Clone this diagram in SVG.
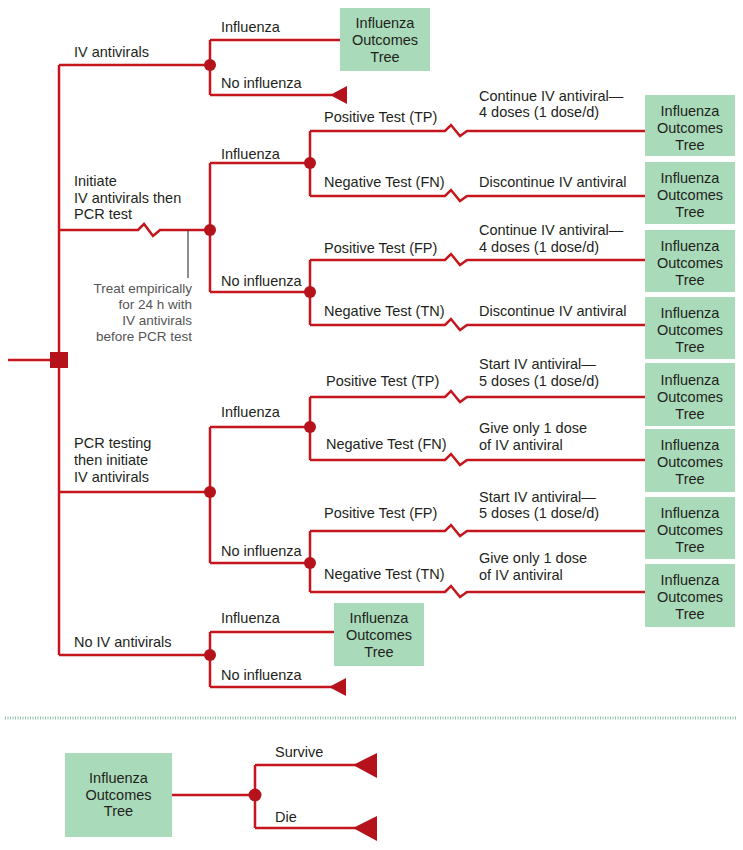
<svg xmlns="http://www.w3.org/2000/svg" width="743" height="850" viewBox="0 0 743 850">
<style>
.ln{fill:none;stroke:#c4161c;stroke-width:2.5;stroke-linejoin:miter}
.nd{fill:#b5121b}
.bx{fill:#a9dab9}
.t{font-family:"Liberation Sans",Arial,sans-serif;font-size:14.5px;fill:#231f20}
.bt{font-family:"Liberation Sans",Arial,sans-serif;font-size:14.5px;fill:#231f20;text-anchor:middle}
.g{font-family:"Liberation Sans",Arial,sans-serif;font-size:13.5px;fill:#555;text-anchor:end}
</style>
<rect width="743" height="850" fill="#fff"/>
<g id="connectors">
<path class="ln" d="M8,360 H59 M59,65 V655"/>
<path class="ln" d="M59,65 H210 M210,40 V95 M210,40 H340 M210,95 H332"/>
<path class="ln" d="M59,230 H138 L144,224 L153,236 L160,230 H210 M210,163 V292 M210,163 H310 M210,292 H310"/>
<path class="ln" d="M310,131 V196 M310,260 V325"/>
<path class="ln" d="M310,131 H445 L451,125 L460,136 L467,131 H645"/>
<path class="ln" d="M310,196 H445 L451,190 L460,201 L467,196 H645"/>
<path class="ln" d="M310,260 H445 L451,254 L460,265 L467,260 H645"/>
<path class="ln" d="M310,325 H445 L451,319 L460,330 L467,325 H645"/>
<path d="M188,230 V278" stroke="#444" stroke-width="1.2" fill="none"/>
<path class="ln" d="M59,492 H210 M210,427 V563 M210,427 H310 M210,563 H310"/>
<path class="ln" d="M310,397 V460 M310,531 V592"/>
<path class="ln" d="M310,397 H445 L451,391 L460,402 L467,397 H645"/>
<path class="ln" d="M310,460 H445 L451,454 L460,465 L467,460 H645"/>
<path class="ln" d="M310,531 H445 L451,525 L460,536 L467,531 H645"/>
<path class="ln" d="M310,592 H445 L451,586 L460,597 L467,592 H645"/>
<path class="ln" d="M59,655 H210 M210,632 V687 M210,632 H334 M210,687 H332"/>
<path class="ln" d="M172,795 H255 M255,765 V828 M255,765 H356 M255,828 H356"/>
</g>
<g id="decision">
<rect class="nd" x="50" y="352" width="18" height="16"/>
</g>
<g id="chance-nodes">
<circle class="nd" cx="210" cy="65" r="6"/>
<circle class="nd" cx="210" cy="230" r="6"/>
<circle class="nd" cx="310" cy="163" r="6"/>
<circle class="nd" cx="310" cy="292" r="6"/>
<circle class="nd" cx="210" cy="492" r="6"/>
<circle class="nd" cx="310" cy="427" r="6"/>
<circle class="nd" cx="310" cy="563" r="6"/>
<circle class="nd" cx="210" cy="655" r="6"/>
<circle class="nd" cx="255" cy="795" r="6.5"/>
</g>
<g id="terminals">
<polygon class="nd" points="330,95 347,86 347,104"/>
<polygon class="nd" points="329,687 346,678 346,696"/>
<polygon class="nd" points="353,765 377,753 377,778"/>
<polygon class="nd" points="353,828 377,816 377,841"/>
</g>
<g id="branch-labels">
<text class="t" x="74" y="57">IV antivirals</text>
<text class="t" x="221" y="32">Influenza</text>
<text class="t" x="221" y="88">No influenza</text>
<text class="t" x="74" y="186">Initiate</text>
<text class="t" x="74" y="203">IV antivirals then</text>
<text class="t" x="74" y="219">PCR test</text>
<text class="t" x="221" y="159">Influenza</text>
<text class="t" x="221" y="286">No influenza</text>
<text class="g" x="192" y="293">Treat empirically</text>
<text class="g" x="192" y="309">for 24 h with</text>
<text class="g" x="192" y="325">IV antivirals</text>
<text class="g" x="192" y="341">before PCR test</text>
<text class="t" x="324" y="122">Positive Test (TP)</text>
<text class="t" x="324" y="187">Negative Test (FN)</text>
<text class="t" x="324" y="253">Positive Test (FP)</text>
<text class="t" x="324" y="316">Negative Test (TN)</text>
<text class="t" x="479" y="101">Continue IV antiviral—</text>
<text class="t" x="479" y="117">4 doses (1 dose/d)</text>
<text class="t" x="479" y="187">Discontinue IV antiviral</text>
<text class="t" x="479" y="235">Continue IV antiviral—</text>
<text class="t" x="479" y="252">4 doses (1 dose/d)</text>
<text class="t" x="479" y="316">Discontinue IV antiviral</text>
<text class="t" x="74" y="448">PCR testing</text>
<text class="t" x="74" y="465">then initiate</text>
<text class="t" x="74" y="482">IV antivirals</text>
<text class="t" x="221" y="417">Influenza</text>
<text class="t" x="221" y="556">No influenza</text>
<text class="t" x="326" y="386">Positive Test (TP)</text>
<text class="t" x="326" y="449">Negative Test (FN)</text>
<text class="t" x="324" y="518">Positive Test (FP)</text>
<text class="t" x="324" y="579">Negative Test (TN)</text>
<text class="t" x="479" y="369">Start IV antiviral—</text>
<text class="t" x="479" y="386">5 doses (1 dose/d)</text>
<text class="t" x="479" y="433">Give only 1 dose</text>
<text class="t" x="479" y="450">of IV antiviral</text>
<text class="t" x="479" y="502">Start IV antiviral—</text>
<text class="t" x="479" y="518">5 doses (1 dose/d)</text>
<text class="t" x="479" y="563">Give only 1 dose</text>
<text class="t" x="479" y="580">of IV antiviral</text>
<text class="t" x="74" y="647">No IV antivirals</text>
<text class="t" x="221" y="623">Influenza</text>
<text class="t" x="221" y="680">No influenza</text>
</g>
<g id="box-1"><rect class="bx" x="340" y="8" width="90" height="63"/><text class="bt" x="385" y="28">Influenza</text><text class="bt" x="385" y="45">Outcomes</text><text class="bt" x="385" y="62">Tree</text></g>
<g id="box-2"><rect class="bx" x="645" y="95" width="90" height="61"/><text class="bt" x="690" y="116">Influenza</text><text class="bt" x="690" y="133">Outcomes</text><text class="bt" x="690" y="150">Tree</text></g>
<g id="box-3"><rect class="bx" x="645" y="162" width="90" height="62"/><text class="bt" x="690" y="183">Influenza</text><text class="bt" x="690" y="200">Outcomes</text><text class="bt" x="690" y="217">Tree</text></g>
<g id="box-4"><rect class="bx" x="645" y="230" width="90" height="62"/><text class="bt" x="690" y="251">Influenza</text><text class="bt" x="690" y="268">Outcomes</text><text class="bt" x="690" y="285">Tree</text></g>
<g id="box-5"><rect class="bx" x="645" y="297" width="90" height="62"/><text class="bt" x="690" y="318">Influenza</text><text class="bt" x="690" y="335">Outcomes</text><text class="bt" x="690" y="352">Tree</text></g>
<g id="box-6"><rect class="bx" x="645" y="363" width="90" height="63"/><text class="bt" x="690" y="385">Influenza</text><text class="bt" x="690" y="402">Outcomes</text><text class="bt" x="690" y="419">Tree</text></g>
<g id="box-7"><rect class="bx" x="645" y="429" width="90" height="63"/><text class="bt" x="690" y="450">Influenza</text><text class="bt" x="690" y="467">Outcomes</text><text class="bt" x="690" y="484">Tree</text></g>
<g id="box-8"><rect class="bx" x="645" y="497" width="90" height="62"/><text class="bt" x="690" y="518">Influenza</text><text class="bt" x="690" y="535">Outcomes</text><text class="bt" x="690" y="552">Tree</text></g>
<g id="box-9"><rect class="bx" x="645" y="564" width="90" height="63"/><text class="bt" x="690" y="585">Influenza</text><text class="bt" x="690" y="602">Outcomes</text><text class="bt" x="690" y="619">Tree</text></g>
<g id="box-10"><rect class="bx" x="334" y="603" width="90" height="63"/><text class="bt" x="379" y="623">Influenza</text><text class="bt" x="379" y="640">Outcomes</text><text class="bt" x="379" y="657">Tree</text></g>
<line x1="5" y1="718" x2="737" y2="718" stroke="#8dbfa8" stroke-width="3" stroke-dasharray="1 1.5"/>
<g id="legend-box"><rect class="bx" x="65" y="753" width="107" height="84"/>
<text class="bt" x="118.5" y="783">Influenza</text>
<text class="bt" x="118.5" y="800">Outcomes</text>
<text class="bt" x="118.5" y="816">Tree</text>
</g>
<g id="legend-labels">
<text class="t" x="275" y="757">Survive</text>
<text class="t" x="275" y="822">Die</text>
</g>
</svg>
